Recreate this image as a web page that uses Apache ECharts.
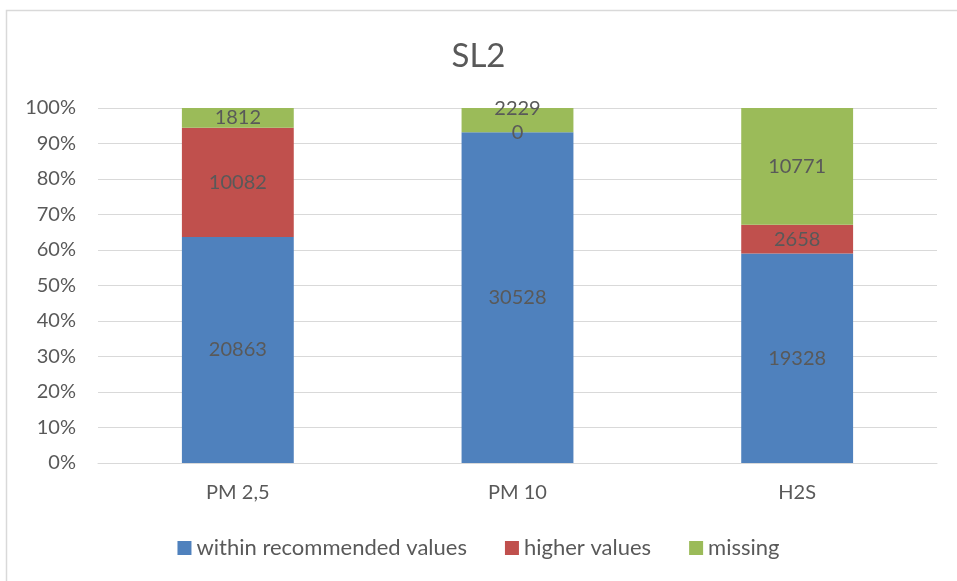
<!DOCTYPE html>
<html>
<head>
<meta charset="utf-8">
<script src="https://cdn.jsdelivr.net/npm/echarts@6/dist/echarts.min.js"></script>
<style>html,body{margin:0;padding:0;background:#fff}#c{width:957px;height:581px}</style>
</head>
<body>
<div id="c"></div>
<script>
var title = 'SL2';
var categories = ['PM 2,5', 'PM 10', 'H2S'];
var seriesNames = ['within recommended values', 'higher values', 'missing'];
var within = [20863, 30528, 19328];
var higher = [10082, 0, 2658];
var missing = [1812, 2229, 10771];
var yTicks = [0, 10, 20, 30, 40, 50, 60, 70, 80, 90, 100];

var colors = ['#4F81BD', '#C0504D', '#9BBB59'];
var raw = [within, higher, missing];
var totals = categories.map(function (c, i) { return within[i] + higher[i] + missing[i]; });
var font = 'Lato';
var txt = '#595959';

var series = raw.map(function (arr, s) {
  return {
    name: seriesNames[s],
    type: 'bar',
    stack: 'all',
    barWidth: '40%',
    itemStyle: { color: colors[s] },
    label: {
      show: true,
      position: 'inside',
      color: txt,
      fontFamily: font,
      fontSize: 20,
      formatter: function (p) { return raw[p.seriesIndex][p.dataIndex]; }
    },
    data: arr.map(function (v, i) {
      var item = { value: v / totals[i] * 100 };
      if (s === 2 && i === 1) item.label = { offset: [0, -12] };
      return item;
    })
  };
});

var chart = echarts.init(document.getElementById('c'));
chart.setOption({
  animation: false,
  title: {
    text: title, left: 'center', top: 35,
    textStyle: { fontFamily: font, fontSize: 33, fontWeight: 'normal', color: txt }
  },
  graphic: [{
    type: 'rect', shape: { x: 6.5, y: 10.5, width: 1000, height: 1000 },
    style: { fill: null, stroke: '#d9d9d9', lineWidth: 1.5 }, silent: true
  }],
  legend: {
    bottom: 17, left: 'center', itemWidth: 14, itemHeight: 14, itemGap: 38,
    icon: 'rect',
    textStyle: { fontFamily: font, fontSize: 22, color: txt }
  },
  grid: { left: 98, right: 20, top: 108, bottom: 118 },
  xAxis: {
    type: 'category', data: categories,
    axisLine: { lineStyle: { color: '#d9d9d9' } },
    axisTick: { show: false },
    axisLabel: { fontFamily: font, fontSize: 20, color: txt, margin: 20 }
  },
  yAxis: {
    type: 'value', min: yTicks[0], max: yTicks[yTicks.length - 1], interval: 10,
    axisLine: { show: false }, axisTick: { show: false },
    splitLine: { lineStyle: { color: '#d9d9d9' } },
    axisLabel: { fontFamily: font, fontSize: 20, color: txt, margin: 22, formatter: '{value}%' }
  },
  series: series
});
</script>
</body>
</html>
